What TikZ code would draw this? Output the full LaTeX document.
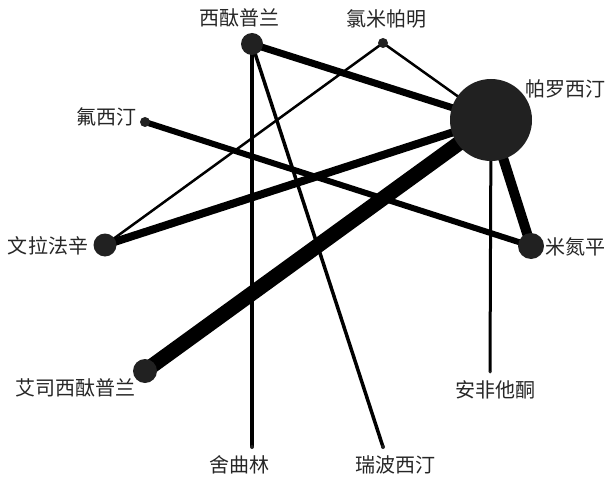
\documentclass[tikz,border=0pt]{standalone}
\usepackage{fontspec}
\newfontfamily\cjk{Noto Sans CJK SC}
\usetikzlibrary{backgrounds}
\begin{document}
\begin{tikzpicture}[x=1pt,y=-1pt,
  hub/.style={circle,fill=black!87,draw=none,inner sep=0pt,minimum size=#1},
  lab/.style={font=\cjk\fontsize{20}{20}\selectfont,inner sep=0pt,text=black!85},
  link/.style={line width=#1,black}]
\useasboundingbox (0,0) rectangle (609,478);
% circles
\node[hub=22pt] (cit) at (252,44) {};
\node[hub=10pt] (clo) at (383,43) {};
\node[hub=82pt] (par) at (491,120) {};
\node[hub=10pt] (flu) at (145,122) {};
\node[hub=23pt] (ven) at (105,245) {};
\node[hub=26pt] (mir) at (531,246) {};
\node[hub=24pt] (esc) at (145,371) {};
\node[hub=3pt] (bup) at (490,372) {};
\node[hub=4pt] (ser) at (252,447) {};
\node[hub=4pt] (reb) at (383,447) {};
% labels
\node[lab] (lcit) at (239,18) {西酞普兰};
\node[lab] (lclo) at (386,19) {氯米帕明};
\node[lab] (lpar) at (565,89) {帕罗西汀};
\node[lab] (lflu) at (106,117) {氟西汀};
\node[lab] (lven) at (48,246) {文拉法辛};
\node[lab] (lesc) at (75,388) {艾司西酞普兰};
\node[lab] (lmir) at (575,247) {米氮平};
\node[lab] (lbup) at (495,390) {安非他酮};
\node[lab] (lser) at (239,465) {舍曲林};
\node[lab] (lreb) at (395,465) {瑞波西汀};
% edges
\begin{scope}[on background layer]
\draw[link=15pt] (esc.center) -- (par.center);
\draw[link=10pt] (par.center) -- (mir.center);
\draw[link=8pt] (ven.center) -- (par.center);
\draw[link=7pt] (cit.center) -- (par.center);
\draw[link=6pt] (flu.center) -- (mir.center);
\draw[link=3.5pt] (cit.center) -- (ser.center);
\draw[link=3.5pt] (cit.center) -- (reb.center);
\draw[link=3pt] (par.center) -- (bup.center);
\draw[link=2.5pt] (clo.center) -- (par.center);
\draw[link=2.5pt] (clo.center) -- (ven.center);
\end{scope}
\end{tikzpicture}
\end{document}
